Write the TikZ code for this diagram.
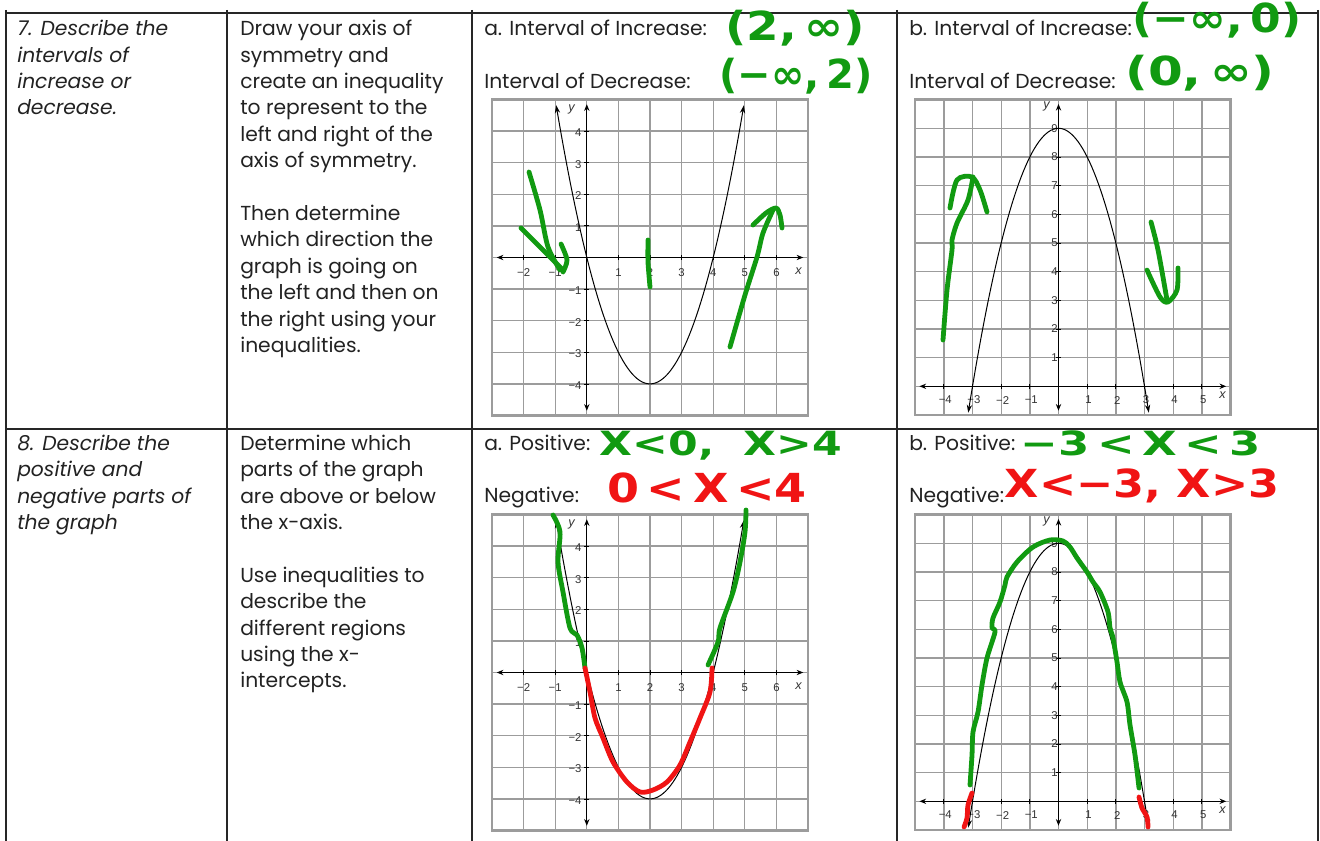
\documentclass[tikz,border=0pt]{standalone}
\usepackage{fontspec}
\setmainfont{Poppins}
\newfontfamily\tickfont{Liberation Sans}
\newfontfamily\handfont{DejaVu Sans}
\usetikzlibrary{arrows.meta}
\definecolor{InkGreen}{HTML}{119A11}
\definecolor{InkRed}{HTML}{F01414}
\definecolor{GridGrey}{HTML}{9C9C9C}
\definecolor{TextGrey}{HTML}{222222}

\tikzset{
  cell/.style={anchor=north west,inner sep=0pt,align=left,text=TextGrey,font=\fontsize{15.2}{19.8}\selectfont},
  rule/.style={line width=0.9pt,black!85},
  gridln/.style={GridGrey,line width=1pt},
  gridbox/.style={GridGrey,line width=1.8pt},
  axisln/.style={black,line width=0.8pt,{Stealth[length=5pt,width=4pt]}-{Stealth[length=5pt,width=4pt]}},
  curveln/.style={black,line width=0.75pt,{Stealth[length=6pt,width=4pt]}-{Stealth[length=6pt,width=4pt]}},
  ticklbl/.style={inner sep=0pt,text=black!80,font=\tickfont\fontsize{8.5}{8.5}\selectfont},
  hand/.style={inner sep=0pt,font=\handfont\bfseries\fontsize{30}{30}\selectfont},
  inkg/.style={InkGreen,line width=3.6pt,line cap=round,line join=round},
  inkr/.style={InkRed,line width=3.6pt,line cap=round,line join=round}
}

\begin{document}
\begin{tikzpicture}[x=0.75pt,y=-0.75pt]
  \useasboundingbox (0,0) rectangle (1320,841);
  % table rules
  \draw[rule] (6,13) -- (1318,13);
  \draw[rule] (6,429) -- (1318,429);
  \foreach \c in {6,227,472,897,1318}
    \draw[rule] (\c,10) -- (\c,841);

  % row 7
  \node[cell] (q7) at (17,17) {\strut\itshape 7. Describe the\\\itshape intervals of\\\itshape increase or\\\itshape decrease.};
  \node[cell] (h7) at (240,17) {\strut Draw your axis of\\symmetry and\\create an inequality\\to represent to the\\left and right of the\\axis of symmetry.\\[19.8pt]Then determine\\which direction the\\graph is going on\\the left and then on\\the right using your\\inequalities.};
  \node[cell] (incA) at (484,17) {\strut a. Interval of Increase:};
  \node[cell] (decA) at (484,69.5) {\strut Interval of Decrease:};
  \node[cell] (incB) at (909,17) {\strut b. Interval of Increase:};
  \node[cell] (decB) at (909,69.5) {\strut Interval of Decrease:};

  % row 8
  \node[cell] (q8) at (17,431.5) {\strut\itshape 8. Describe the\\\itshape positive and\\\itshape negative parts of\\\itshape the graph};
  \node[cell] (h8) at (240,431.5) {\strut Determine which\\parts of the graph\\are above or below\\the x-axis.\\[19.8pt]Use inequalities to\\describe the\\different regions\\using the x-\\intercepts.};
  \node[cell] (posA) at (484,431.5) {\strut a. Positive:};
  \node[cell] (negA) at (484,483.5) {\strut Negative:};
  \node[cell] (posB) at (909,431.5) {\strut b. Positive:};
  \node[cell] (negB) at (909,483.5) {\strut Negative:};

  % graphs of y = x^2 - 4x
  \foreach \gy/\g in {257.5/u,672.5/l} {
  \begin{scope}[shift={(586.8,\gy)},x=23.7pt,y=23.7pt]
    \draw[gridln,step=1] (-3,-5) grid (7,5);
    \draw[gridbox] (-3,-5) rectangle (7,5);
    \draw[axisln] (-2.85,0) -- (6.85,0);
    \draw[axisln] (0,-4.85) -- (0,4.85);
    \foreach \v in {-2,...,6} \draw[line width=0.6pt] (\v,-0.08) -- (\v,0.08);
    \foreach \v in {-4,...,4} \draw[line width=0.6pt] (-0.08,\v) -- (0.08,\v);
    \foreach \v/\t in {-2/−2,-1/−1,1/1,2/2,3/3,4/4,5/5,6/6}
      \node[ticklbl] (a\g x\v) at (\v,-0.48) {\t};
    \foreach \v/\t in {-4/−4,-3/−3,-2/−2,-1/−1,1/1,2/2,3/3,4/4}
      \node[ticklbl,anchor=east] (a\g y\v) at (-0.16,\v-0.05) {\t};
    \node[ticklbl,font=\tickfont\itshape\fontsize{9.5}{9.5}\selectfont] (a\g xl) at (6.7,-0.42) {x};
    \node[ticklbl,font=\tickfont\itshape\fontsize{9.5}{9.5}\selectfont] (a\g yl) at (-0.48,4.68) {y};
    \draw[curveln,domain=-0.97:4.97,samples=80] plot (\x,{(\x-2)^2-4});
  \end{scope}
  }

  % graphs of y = 9 - x^2
  \foreach \gy/\g in {386.3/u,801.3/l} {
  \begin{scope}[shift={(1058.5,\gy)},x=21.5pt,y=21.5pt]
    \draw[gridln,step=1] (-5,-1) grid (6,10);
    \draw[gridbox] (-5,-1) rectangle (6,10);
    \draw[axisln] (-4.85,0) -- (5.85,0);
    \draw[axisln] (0,-0.85) -- (0,9.85);
    \foreach \v in {-4,...,5} \draw[line width=0.6pt] (\v,-0.08) -- (\v,0.08);
    \foreach \v in {1,...,9} \draw[line width=0.6pt] (-0.08,\v) -- (0.08,\v);
    \foreach \v/\t in {-4/−4,-3/−3,-2/−2,-1/−1,1/1,2/2,3/3,4/4,5/5}
      \node[ticklbl] (b\g x\v) at (\v+0.05,-0.48) {\t};
    \foreach \v in {1,...,9}
      \node[ticklbl,anchor=east] (b\g y\v) at (-0.02,\v) {\v};
    \node[ticklbl,font=\tickfont\itshape\fontsize{9.5}{9.5}\selectfont] (b\g xl) at (5.72,-0.3) {x};
    \node[ticklbl,font=\tickfont\itshape\fontsize{9.5}{9.5}\selectfont] (b\g yl) at (-0.42,9.75) {y};
    \draw[curveln,domain=-3.15:3.15,samples=80] plot (\x,{9-\x*\x});
  \end{scope}
  }

  % handwritten answers
  \node[hand,text=InkGreen] (ansIncA) at (795,28) {\scalebox{1.17}[1]{(2,\,∞)}};
  \node[hand,text=InkGreen] (ansDecA) at (796,76) {(−∞,\,2)};
  \node[hand,text=InkGreen] (ansIncB) at (1217,20) {\scalebox{1.1}[1]{(−∞,\,0)}};
  \node[hand,text=InkGreen] (ansDecB) at (1200,73) {\scalebox{1.25}[1]{(0,\,∞)}};
  \node[hand,text=InkGreen,font=\handfont\bfseries\fontsize{25}{25}\selectfont] (ansPosA) at (721,445) {\scalebox{1.28}[1]{X<0,\ \ X>4}};
  \node[hand,text=InkRed,font=\handfont\bfseries\fontsize{30}{30}\selectfont] (ansNegA) at (707,488) {\scalebox{1.15}[1]{0\,<\,X\,<4}};
  \node[hand,text=InkGreen,font=\handfont\bfseries\fontsize{25}{25}\selectfont] (ansPosB) at (1141,443) {\scalebox{1.35}[1]{−3\,<\,X\,<\,3}};
  \node[hand,text=InkRed,font=\handfont\bfseries\fontsize{29}{29}\selectfont] (ansNegB) at (1142,486) {\scalebox{1.15}[1]{X<−3,\ X>3}};

  % hand-drawn arrows, graph 7a
  \draw[inkg] plot[smooth] coordinates {(529,172) (540,210) (548,247) (560,270)};
  \draw[inkg] plot[smooth] coordinates {(521,228) (546,253) (563,270)};
  \draw[inkg] plot[smooth] coordinates {(561,244) (567,260) (563,272)};
  \draw[inkg] plot[smooth] coordinates {(648,240) (648,262) (650,287)};
  \draw[inkg] plot[smooth] coordinates {(730,347) (745,295) (757,257) (763,233) (773,210)};
  \draw[inkg] plot[smooth] coordinates {(753,225) (766,213) (776,208) (780,215) (782,228)};
  % hand-drawn arrows, graph 7b
  \draw[inkg] plot[smooth] coordinates {(943,340) (947,290) (952,250) (952,240) (957,223) (968,200) (973,177)};
  \draw[inkg] plot[smooth] coordinates {(950,208) (957,180) (972,177) (980,190) (987,212)};
  \draw[inkg] plot[smooth] coordinates {(1151,222) (1158,250) (1167,300)};
  \draw[inkg] plot[smooth] coordinates {(1147,270) (1160,297) (1168,302) (1177,290) (1178,268)};

  % traced parts, graph 8a
  \draw[inkg] plot[smooth] coordinates {(553,515) (560,532) (558,562) (563,592) (570,628) (577,635) (582,648) (585,668)};
  \draw[inkr] plot[smooth] coordinates {(585,668) (590,692) (595,718) (603,738) (613,762) (627,782) (640,792) (653,790) (667,782) (680,765) (690,742) (700,718) (710,692) (712,668)};
  \draw[inkg] plot[smooth] coordinates {(708,665) (718,642) (720,628) (733,592) (740,562) (745,532) (746,510)};
  % traced parts, graph 8b
  \draw[inkg] plot[smooth] coordinates {(970,785) (972,755) (973,732) (978,712) (982,685) (987,658) (995,632) (992,628) (993,618) (1000,602) (1005,585) (1007,577) (1017,562) (1033,547) (1050,540) (1063,541) (1070,547) (1077,558) (1087,572) (1093,582) (1100,592) (1108,612) (1110,628) (1113,638) (1117,662) (1120,682) (1127,702) (1130,725) (1135,755) (1139,788)};
  \draw[inkr] plot[smooth] coordinates {(972,793) (968,805) (967,818) (964,827)};
  \draw[inkr] plot[smooth] coordinates {(1139,797) (1142,808) (1147,817) (1148,827)};
\end{tikzpicture}
\end{document}
